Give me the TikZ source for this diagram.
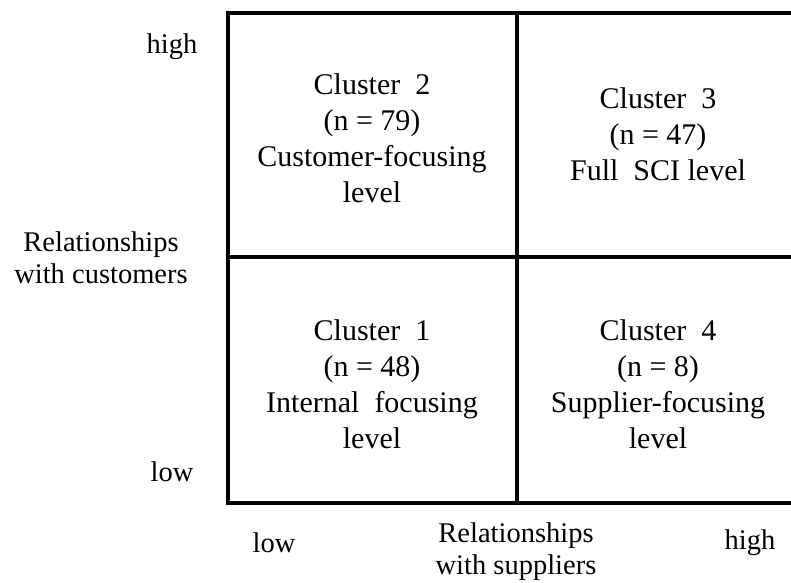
\documentclass[tikz,border=0pt]{standalone}
\usepackage{fontspec}
\setmainfont{Liberation Serif}
\usetikzlibrary{positioning}

\begin{document}
\begin{tikzpicture}[x=1pt, y=-1pt, line width=3.2pt,
		cell/.style={align=center, font=\fontsize{30}{36}\selectfont},
		axis/.style={align=center, font=\fontsize{28.5}{32}\selectfont}]
	\useasboundingbox (0,0) rectangle (791,582);
	\clip (0,0) rectangle (791,582);

	% the 2x2 grid
	\coordinate (nw) at (228,13);
	\coordinate (se) at (806,503);
	\coordinate (mid) at (517,257);
	\draw (nw) rectangle (se);
	\draw (mid |- nw) -- (mid |- se);
	\draw (nw |- mid) -- (se |- mid);

	\node[cell] (c2) at (372,138) {Cluster\ \ 2\\(n = 79)\\Customer-focusing\\level};
	\node[cell] (c3) at (658,134) {Cluster\ \ 3\\(n = 47)\\Full\ \ SCI level};
	\node[cell] (c1) at (372,384) {Cluster\ \ 1\\(n = 48)\\Internal\ \ focusing\\level};
	\node[cell] (c4) at (658,384) {Cluster\ \ 4\\(n = 8)\\Supplier-focusing\\level};

	% customers axis
	\node[axis] (yhigh) at (172,47) {high};
	\node[axis] (ylow) at (172,472) {low};
	\node[axis] (ylab) at (101,258) {Relationships\\with customers};

	% suppliers axis
	\node[axis] (xlow) at (274,543) {low};
	\node[axis] (xlab) at (516,552) {Relationships\\with suppliers};
	\node[axis] (xhigh) at (750,543) {high};
\end{tikzpicture}
\end{document}
